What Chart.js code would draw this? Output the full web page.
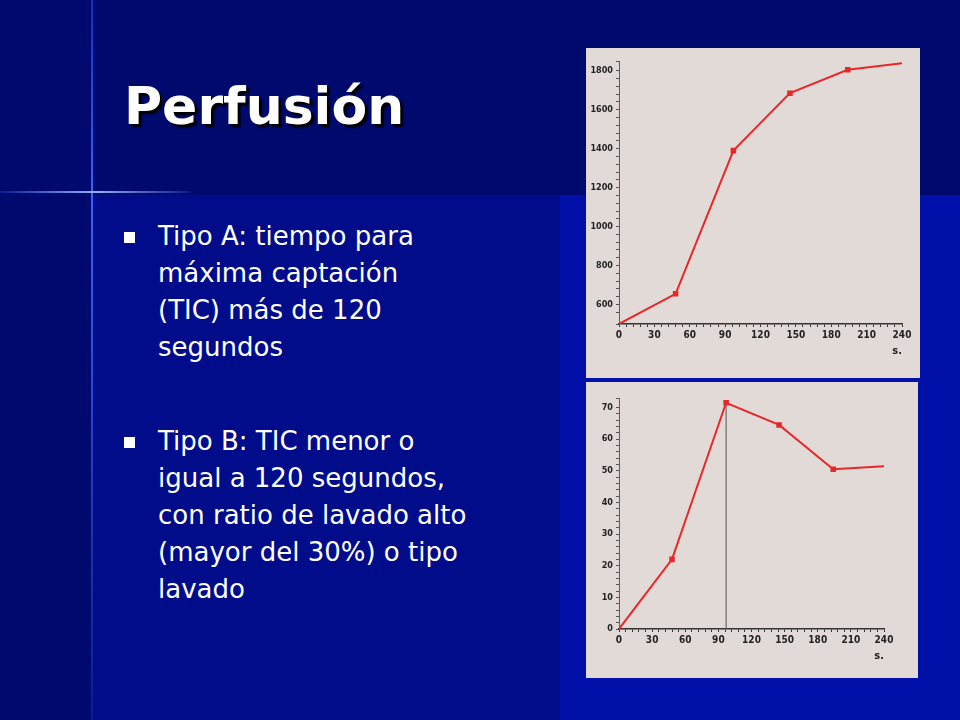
<!DOCTYPE html>
<html>
<head>
<meta charset="utf-8">
<script src="https://cdn.jsdelivr.net/npm/chart.js@4"></script>
<style>
body{margin:0;width:960px;height:720px;overflow:hidden;position:relative;
  background:#000a6e;font-family:"DejaVu Sans",sans-serif;color:#fff}
#right{position:absolute;left:560px;top:195px;width:400px;height:525px;background:#0010a8}
#vline{position:absolute;left:91px;top:0;width:2px;height:720px;background:linear-gradient(#1030c0,#3a60ff 27%,#0a1c90)}
#hline{position:absolute;left:0;top:191px;width:190px;height:2px;background:linear-gradient(90deg,#0a1c90,#8fb0ff,#0a1c90)}
#bottom{position:absolute;left:93px;top:195px;width:467px;height:525px;background:#000c8a}
h1{position:absolute;left:124px;top:76px;margin:0;font-size:52px;font-weight:bold;text-shadow:3px 3px 2px #000}
ul{position:absolute;left:124px;top:218px;margin:0;padding:0;list-style:none;width:420px}
li{position:relative;padding-left:34px;font-size:26px;line-height:37px;margin-bottom:57px;white-space:nowrap;font-family:"DejaVu Sans",sans-serif}
li:before{content:"";position:absolute;left:0;top:14px;width:11px;height:11px;background:#fff}
.box{position:absolute;background:#e1dad6}
</style>
</head>
<body>
<div id="bottom"></div>
<div id="right"></div>
<div id="vline"></div>
<div id="hline"></div>
<h1>Perfusión</h1>
<ul>
<li>Tipo A: tiempo para<br>máxima captación<br>(TIC) más de 120<br>segundos</li>
<li>Tipo B: TIC menor o<br>igual a 120 segundos,<br>con ratio de lavado alto<br>(mayor del 30%) o tipo<br>lavado</li>
</ul>
<div class="box" style="left:586px;top:48px;width:334px;height:330px"><canvas id="c1"></canvas></div>
<div class="box" style="left:586px;top:382px;width:332px;height:296px"><canvas id="c2"></canvas></div>
<script>
var timeA = [0, 48, 97, 145, 194, 242];
var valuesA = [500, 655, 1390, 1685, 1805, 1840];
var timeB = [0, 48, 97, 145, 194, 242];
var valuesB = [0, 22, 71.5, 64.5, 50.5, 51.5];
var peakB = 97;

function pts(xs, ys){ return xs.map(function(x,i){ return {x:x, y:ys[i]}; }); }

function makeChart(id, xs, ys, yMin, yMax, yStep, yLabelEvery, pad, extra){
  var sets = [{data: pts(xs, ys), borderColor:"#e8272a", backgroundColor:"#e8272a",
    borderWidth:2, pointRadius:[0,2.5,2.5,2.5,2.5,0], pointStyle:"rect", tension:0}];
  if (extra) sets.push(extra);
  new Chart(id, {
    type: "scatter",
    data: {datasets: sets},
    options: {
      responsive:true, maintainAspectRatio:false, animation:false,
      showLine:true,
      layout:{padding:pad},
      plugins:{legend:{display:false}, tooltip:{enabled:false}},
      scales:{
        x:{type:"linear", min:0, max:240,
          grid:{drawOnChartArea:false, tickLength:3, color:"#333"},
          border:{color:"#333", width:1.5},
          ticks:{stepSize:6, autoSkip:false, maxRotation:0, color:"#222", padding:2,
            font:{family:"DejaVu Sans Condensed", weight:"bold", size:10},
            callback:function(v){ return v % 30 === 0 ? v : ""; }},
          title:{display:true, text:"s.", align:"end", color:"#222", padding:0,
            font:{family:"DejaVu Sans Condensed", weight:"bold", size:11}},
          afterFit:function(a){ a.height = 34; }},
        y:{min:yMin, max:yMax,
          grid:{drawOnChartArea:false, tickLength:3, color:"#555"},
          border:{color:"#e8272a", width:1},
          ticks:{stepSize:yStep, autoSkip:false, color:"#222", padding:3,
            font:{family:"DejaVu Sans Condensed", weight:"bold", size:9},
            callback:function(v){ return v % yLabelEvery === 0 ? v : ""; }},
          afterFit:function(a){ a.width = 30; }}
      }
    }
  });
}

makeChart("c1", timeA, valuesA, 500, 1850, 40, 200, {left:3, right:18, top:13, bottom:20});
// vertical peak marker of curve B
makeChart("c2", timeB, valuesB, 0, 73, 2, 10, {left:3, right:34, top:16, bottom:15},
  {data: pts([peakB, peakB], [0, valuesB[2]]), borderColor:"#555", borderWidth:1, pointRadius:0});
</script>
</body>
</html>
